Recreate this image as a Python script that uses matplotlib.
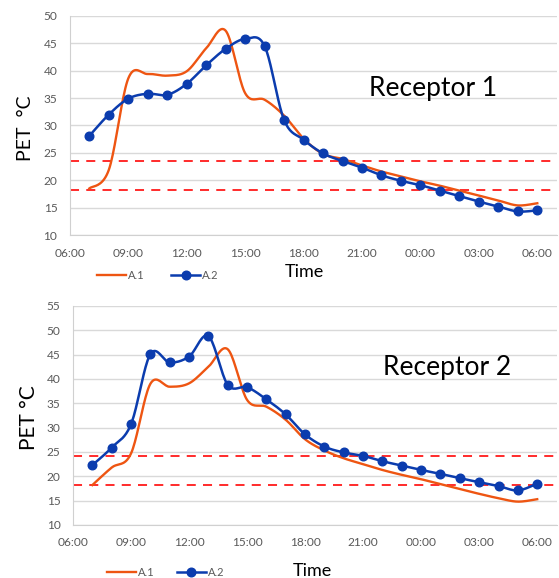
import numpy as np
import matplotlib
matplotlib.use("Agg")
import matplotlib.pyplot as plt

plt.rcParams['font.family'] = ['Lato', 'DejaVu Sans']

# hours from 07:00 to 06:00 next day
hours = list(range(7, 31))
tick_pos = [6, 9, 12, 15, 18, 21, 24, 27, 30]
tick_lab = ["06:00", "09:00", "12:00", "15:00", "18:00", "21:00", "00:00", "03:00", "06:00"]

r1_a1 = [18.5, 21.9, 38.6, 39.4, 39.1, 39.9, 44.1, 47.3, 35.9, 34.7, 31.8, 27.6,
         24.8, 23.9, 22.7, 21.6, 20.7, 19.8, 19.0, 18.1, 17.2, 16.3, 15.4, 15.8]
r1_a2 = [28.1, 32.0, 34.9, 35.8, 35.6, 37.6, 41.0, 44.0, 45.8, 44.5, 31.0, 27.4,
         24.9, 23.5, 22.3, 20.9, 19.9, 19.1, 18.1, 17.1, 16.1, 15.2, 14.3, 14.5]
r1_limits = [23.6, 18.3]

r2_a1 = [18.2, 21.8, 24.7, 39.0, 38.4, 39.1, 42.5, 46.1, 35.7, 34.3, 31.6, 27.6,
         25.3, 23.7, 22.5, 21.3, 20.3, 19.4, 18.4, 17.4, 16.4, 15.5, 14.8, 15.3]
r2_a2 = [22.3, 25.9, 30.7, 45.1, 43.4, 44.6, 48.8, 38.8, 38.3, 35.8, 32.7, 28.6,
         26.1, 24.9, 24.2, 23.1, 22.2, 21.3, 20.5, 19.6, 18.8, 18.0, 17.1, 18.5]
r2_limits = [24.2, 18.2]

ORANGE = '#EE5512'
BLUE = '#0B3CAE'


def smooth(x, y, n=20):
    # Catmull-Rom curve through the points, like Excel's smoothed line
    p = np.column_stack([x, y]).astype(float)
    p = np.vstack([p[0], p, p[-1]])
    out = []
    t = np.linspace(0, 1, n, endpoint=False)
    for i in range(1, len(p) - 2):
        p0, p1, p2, p3 = p[i - 1], p[i], p[i + 1], p[i + 2]
        c1 = p1 + (p2 - p0) / 6
        c2 = p2 - (p3 - p1) / 6
        for tt in t:
            b = ((1 - tt) ** 3) * p1 + 3 * ((1 - tt) ** 2) * tt * c1 + 3 * (1 - tt) * tt ** 2 * c2 + tt ** 3 * p2
            out.append(b)
    out.append(p[-2])
    out = np.array(out)
    return out[:, 0], out[:, 1]


def panel(ax, a1, a2, limits, ylim, yticks, title, title_xy, ylab):
    ax.set_xlim(6, 31)
    ax.set_ylim(*ylim)
    ax.set_yticks(yticks)
    ax.set_xticks(tick_pos)
    ax.set_xticklabels(tick_lab)
    ax.grid(axis='y', color='#D9D9D9', lw=1)
    ax.set_axisbelow(True)
    for s in ['top', 'right']:
        ax.spines[s].set_visible(False)
    for s in ['left', 'bottom']:
        ax.spines[s].set_color('#D0D0D0')
    ax.tick_params(length=0, labelsize=8.6, colors='#595959', pad=9)
    for lv in limits:
        ax.axhline(lv, color='#FF1A1A', lw=1.3, ls=(0, (5, 4)))
    sx, sy = smooth(hours, a1)
    ax.plot(sx, sy, color=ORANGE, lw=1.7, label='A.1')
    sx, sy = smooth(hours, a2)
    ax.plot(sx, sy, color=BLUE, lw=1.8)
    ax.plot(hours, a2, 'o', color=BLUE, ms=6.2)
    ax.plot([], [], color=BLUE, lw=1.8, marker='o', ms=6.2, label='A.2')
    ax.set_ylabel(ylab, fontsize=14)
    ax.text(title_xy[0], title_xy[1], title, transform=ax.transAxes,
            fontsize=19, ha='center', va='center')


fig = plt.figure(figsize=(5.59, 5.78), dpi=100)

ax1 = fig.add_axes([0.125, 0.5934, 0.871, 0.379])
panel(ax1, r1_a1, r1_a2, r1_limits, (10, 50), range(10, 51, 5),
      'Receptor 1', (0.746, 0.67), 'PET  \u00b0C')
ax1.legend(loc='center left', bbox_to_anchor=(0.055, -0.183), ncol=2, frameon=False,
           fontsize=8, handlelength=2.6, handletextpad=0.2, columnspacing=2.4,
           borderpad=0, borderaxespad=0, labelcolor='#595959')
ax1.set_xlabel('Time', fontsize=13)
ax1.xaxis.set_label_coords(0.4825, -0.134)
ax1.yaxis.set_label_coords(-0.074, 0.489)

ax2 = fig.add_axes([0.1306, 0.0917, 0.865, 0.379])
panel(ax2, r2_a1, r2_a2, r2_limits, (10, 55), range(10, 56, 5),
      'Receptor 2', (0.773, 0.72), 'PET \u00b0C')
ax2.legend(loc='center left', bbox_to_anchor=(0.070, -0.215), ncol=2, frameon=False,
           fontsize=8, handlelength=2.6, handletextpad=0.2, columnspacing=2.0,
           borderpad=0, borderaxespad=0, labelcolor='#595959')
ax2.set_xlabel('Time', fontsize=13)
ax2.xaxis.set_label_coords(0.496, -0.172)
ax2.yaxis.set_label_coords(-0.070, 0.489)
ax2.yaxis.label.set_fontsize(15)

fig.savefig('out.png', dpi=100)
